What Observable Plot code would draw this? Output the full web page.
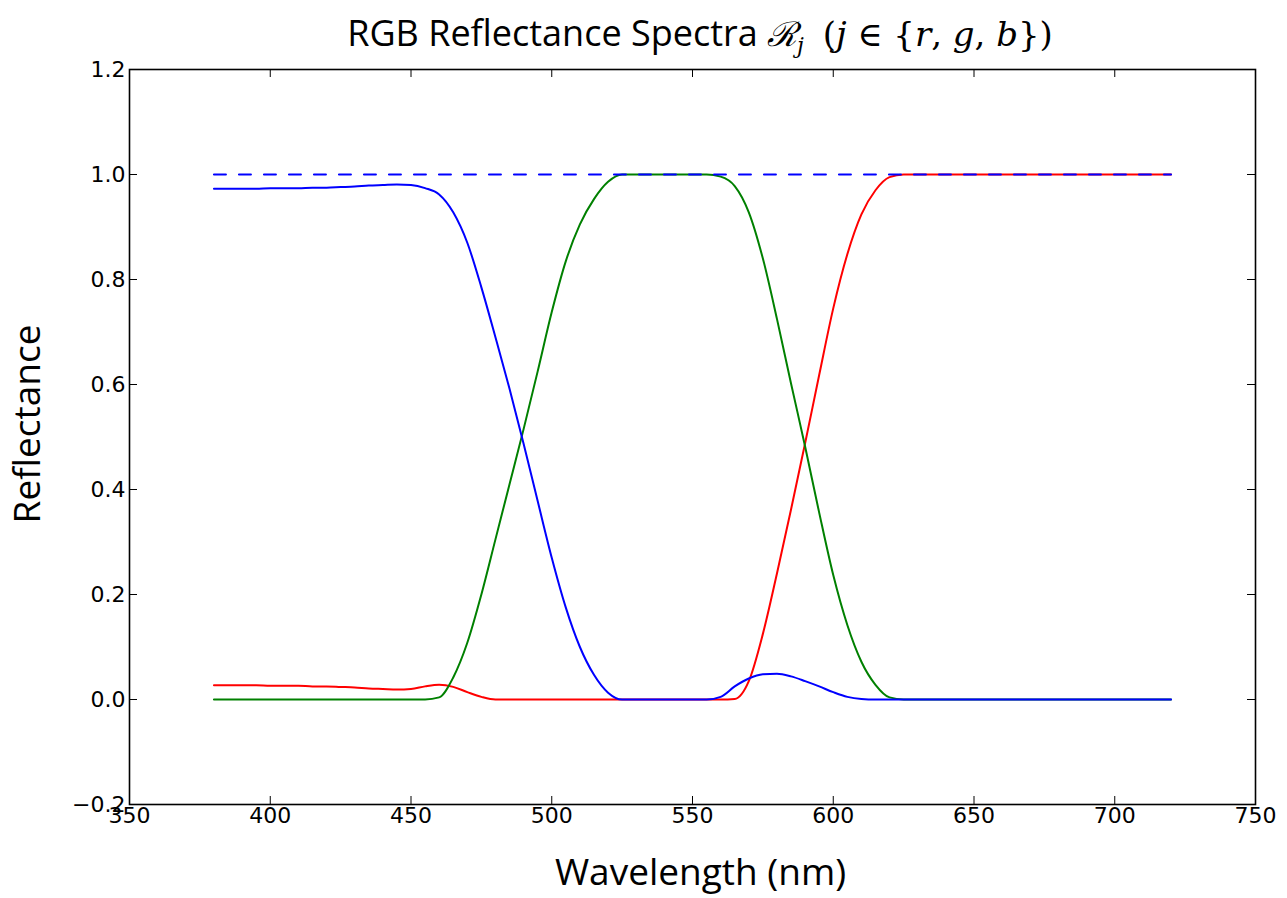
<!DOCTYPE html>
<html><head><meta charset="utf-8">
<script src="https://cdn.jsdelivr.net/npm/d3@7"></script>
<script src="https://cdn.jsdelivr.net/npm/@observablehq/plot@0.6"></script>
<style>
body{margin:0;background:#fff;}
#wrap{position:relative;width:1287px;height:898px;}
#title{position:absolute;left:129px;width:1142px;top:11px;text-align:center;font-family:"Open Sans";font-size:36px;color:#000;white-space:nowrap;line-height:44px;}
.m{font-family:"DejaVu Serif";font-style:italic;font-size:34px;}
.p{font-family:"DejaVu Serif";font-size:34px;}
sub{font-size:22px;vertical-align:-7px;line-height:0;}
#plot{position:absolute;left:0;top:0;}
</style></head><body>
<div id="wrap">
<div id="plot"></div>
<div id="title">RGB Reflectance Spectra <span class="m">ℛ<sub>j</sub></span>&nbsp;&nbsp;<span class="p">(</span><span class="m">j</span><span class="p"> ∈ {</span><span class="m">r</span><span class="p">, </span><span class="m">g</span><span class="p">, </span><span class="m">b</span><span class="p">})</span></div>
</div>
<script>
const wavelengths = [380,385,390,395,400,405,410,415,420,425,430,435,440,445,450,455,460,465,470,475,480,485,490,495,500,505,510,515,520,525,530,535,540,545,550,555,560,565,570,575,580,585,590,595,600,605,610,615,620,625,630,635,640,645,650,655,660,665,670,675,680,685,690,695,700,705,710,715,720];

const redValues = [0.027,0.027,0.027,0.027,0.026,0.026,0.026,0.025,0.025,0.024,0.023,0.021,0.020,0.019,0.020,0.025,0.028,0.024,0.014,0.005,0,0,0,0,0,0,0,0,0,0,0,0,0,0,0,0,0,0.001,0.035,0.125,0.240,0.362,0.488,0.618,0.745,0.848,0.924,0.970,0.995,1,1,1,1,1,1,1,1,1,1,1,1,1,1,1,1,1,1,1,1];

const greenValues = [0,0,0,0,0,0,0,0,0,0,0,0,0,0,0,0,0.004,0.042,0.108,0.200,0.305,0.410,0.515,0.625,0.738,0.835,0.905,0.953,0.986,1,1,1,1,1,1,1,0.996,0.978,0.928,0.840,0.725,0.602,0.482,0.356,0.237,0.142,0.072,0.028,0.004,0,0,0,0,0,0,0,0,0,0,0,0,0,0,0,0,0,0,0,0];

const blueValues = [0.973,0.973,0.973,0.973,0.974,0.974,0.974,0.975,0.975,0.976,0.977,0.979,0.980,0.981,0.980,0.974,0.962,0.928,0.870,0.785,0.690,0.592,0.487,0.378,0.270,0.175,0.100,0.047,0.013,0,0,0,0,0,0,0,0.005,0.025,0.040,0.048,0.049,0.044,0.035,0.025,0.014,0.005,0.001,0,0,0,0,0,0,0,0,0,0,0,0,0,0,0,0,0,0,0,0,0,0];

const sumWavelengths = [380, 720];
const sumValues = [1.0, 1.0];

const xTicks = [350,400,450,500,550,600,650,700,750];
const yTicks = [-0.2,0,0.2,0.4,0.6,0.8,1.0,1.2];
const yTickLabels = ["−0.2","0.0","0.2","0.4","0.6","0.8","1.0","1.2"];

const series = [
  {name: "r", values: redValues, color: "#ff0000"},
  {name: "g", values: greenValues, color: "#008000"},
  {name: "b", values: blueValues, color: "#0000ff"}
];
const sumData = sumWavelengths.map((w, i) => ({w, v: sumValues[i]}));

const W = 1287, H = 898;
const mL = 129, mR = 32, mT = 69, mB = 94;
const innerW = W - mL - mR, innerH = H - mT - mB;
const tickLen = 8;

const lineMarks = series.map(s =>
  Plot.lineY(wavelengths.map((w, i) => ({w, v: s.values[i]})),
    {x: "w", y: "v", stroke: s.color, strokeWidth: 2, curve: "monotone-x"})
);

const chart = Plot.plot({
  width: W, height: H,
  marginLeft: mL, marginRight: mR, marginTop: mT, marginBottom: mB,
  style: {background: "transparent", fontFamily: "DejaVu Sans", fontSize: "22px", color: "#000"},
  x: {domain: [350, 750]},
  y: {domain: [-0.2, 1.2]},
  marks: [
    ...lineMarks,
    Plot.lineY(sumData, {x: "w", y: "v", stroke: "#0000ff", strokeWidth: 2, strokeDasharray: "12,13"}),
    Plot.frame({stroke: "#000", strokeWidth: 1.6}),
    Plot.tickX(xTicks, {x: d => d, stroke: "#000", strokeWidth: 1, insetTop: innerH - tickLen}),
    Plot.tickX(xTicks, {x: d => d, stroke: "#000", strokeWidth: 1, insetBottom: innerH - tickLen}),
    Plot.tickY(yTicks, {y: d => d, stroke: "#000", strokeWidth: 1, insetRight: innerW - tickLen}),
    Plot.tickY(yTicks, {y: d => d, stroke: "#000", strokeWidth: 1, insetLeft: innerW - tickLen}),
    Plot.axisX(xTicks, {tickSize: 0, tickPadding: 3, label: null, fontSize: 22, fontFamily: "DejaVu Sans"}),
    Plot.axisY(yTicks, {tickSize: 0, tickPadding: 4, label: null, fontSize: 22, fontFamily: "DejaVu Sans",
      tickFormat: d => yTickLabels[yTicks.indexOf(d)]}),
    Plot.text(["Wavelength (nm)"], {frameAnchor: "bottom", lineAnchor: "middle", dy: 69, dx: 8, fontSize: 37, fontFamily: "Open Sans", fill: "#000"}),
    Plot.text(["Reflectance"], {frameAnchor: "left", textAnchor: "middle", lineAnchor: "middle", dx: -101, dy: -13, rotate: -90, fontSize: 37, fontFamily: "Open Sans", fill: "#000"})
  ]
});
document.getElementById("plot").appendChild(chart);
</script>
</body></html>
